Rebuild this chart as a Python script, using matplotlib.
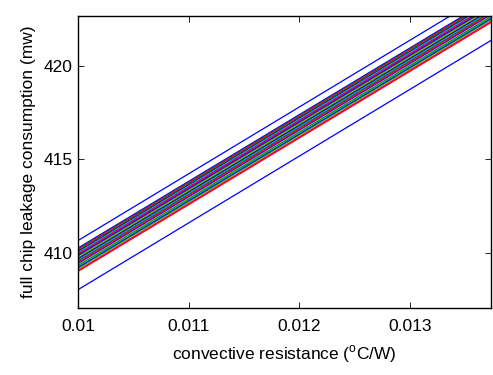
import matplotlib
matplotlib.use("Agg")
import matplotlib.pyplot as plt

plt.rcParams['font.family'] = ['Liberation Sans', 'DejaVu Sans']
plt.rcParams['mathtext.fontset'] = 'custom'
plt.rcParams['mathtext.rm'] = 'Liberation Sans'

# convective resistance (degC/W): end points of each line
resistance = [0.0100, 0.0138]

# outliers
top_start, top_end = 410.65, 424.25
bot_start, bot_end = 408.02, 421.62

# bundle lines (start value at 0.0100, end value at 0.0138), top to bottom
bundle_start = [410.25, 410.20, 410.15, 410.10, 410.05, 410.00, 409.95, 409.90,
                409.85, 409.80, 409.75, 409.70, 409.65, 409.60, 409.55, 409.50,
                409.45, 409.40, 409.35, 409.30, 409.25, 409.20, 409.15, 409.10,
                409.05, 409.00]
bundle_end = [423.83, 423.78, 423.73, 423.68, 423.63, 423.58, 423.53, 423.48,
              423.43, 423.38, 423.33, 423.28, 423.23, 423.18, 423.13, 423.08,
              423.03, 422.98, 422.93, 422.88, 422.83, 422.78, 422.73, 422.68,
              422.63, 422.58]

colors = {'b': (0, 0, 1), 'g': (0, 0.5, 0), 'r': (1, 0, 0), 'c': (0, 0.75, 0.75),
          'm': (0.75, 0, 0.75), 'y': (0.75, 0.75, 0), 'k': (0.25, 0.25, 0.25)}
bundle_colors = ['b', 'k', 'r', 'g', 'b', 'c', 'r', 'm', 'b', 'g', 'y', 'k', 'b',
                 'c', 'g', 'r', 'm', 'b', 'y', 'g', 'c', 'b', 'g', 'y', 'm', 'r']

fig = plt.figure(figsize=(4.93, 3.75), dpi=100)
ax = fig.add_axes([0.158, 0.179, 0.838, 0.778])

for s, e, c in zip(bundle_start, bundle_end, bundle_colors):
    ax.plot(resistance, [s, e], color=colors[c], lw=0.9)
ax.plot(resistance, [top_start, top_end], color=(0, 0, 1), lw=0.9)
ax.plot(resistance, [bot_start, bot_end], color=(0, 0, 1), lw=0.9)

ax.set_xlim(0.0100, 0.01373)
ax.set_ylim(407.05, 422.67)
ax.set_xticks([0.01, 0.011, 0.012, 0.013])
ax.set_xticklabels(['0.01', '0.011', '0.012', '0.013'])
ax.set_yticks([410, 415, 420])
ax.set_yticklabels(['410', '415', '420'])
ax.tick_params(direction='in', top=True, right=True, labelsize=12.5, length=4,
               width=0.6)
ax.tick_params(axis='x', pad=8)
ax.tick_params(axis='y', pad=4)
for sp in ax.spines.values():
    sp.set_linewidth(1.0)

ax.set_xlabel(r'convective resistance ($^{\rm o}$C/W)', fontsize=12.5, labelpad=7)
ax.set_ylabel('full chip leakage consumption (mw)', fontsize=12.5, labelpad=5)

fig.savefig('out.png', dpi=100)
